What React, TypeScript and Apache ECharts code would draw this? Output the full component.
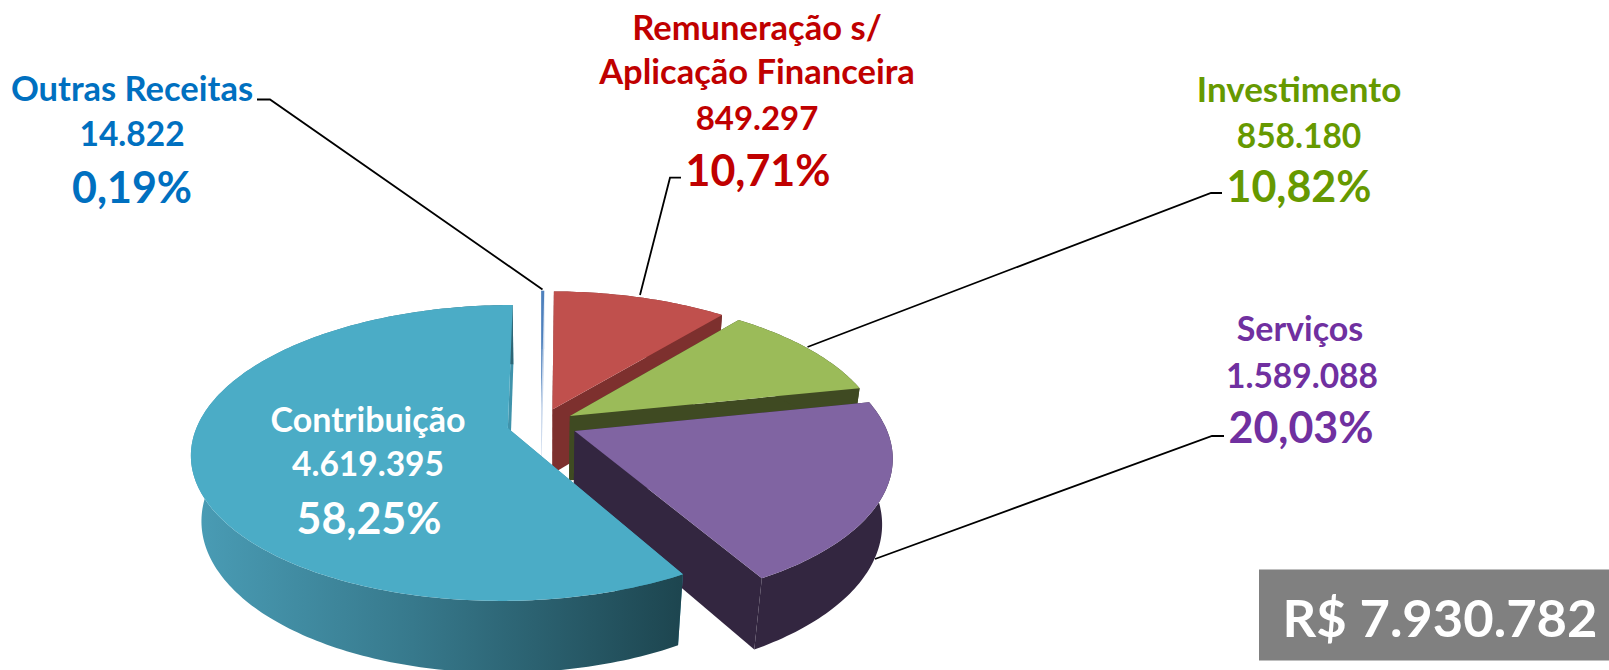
import React, { useEffect, useRef } from "react";
import * as echarts from "echarts";

// Drawing order: back to front, clockwise from 12 o'clock
const categories = ["Outras Receitas", "Remuneração s/ Aplicação Financeira", "Investimento", "Serviços", "Contribuição"];
const seriesValues = [14822, 849297, 858180, 1589088, 4619395];
const topColors = ["#4F81BD", "#C0504D", "#9BBB59", "#8064A2", "#4BACC6"];
const wallColors = ["#C5D5EA", "#7D302E", "#3F4A22", "#332640", "#1D454F"];
const radialColors = ["#C5D5EA", "#7D302E", "#3F4A22", "#332640", "#3F93AB"];
const explodeBy = [0.11, 0.11, 0.11, 0.118, 0.11];
const valueLabels = ["14.822", "849.297", "858.180", "1.589.088", "4.619.395"];
const percentLabels = ["0,19%", "10,71%", "10,82%", "20,03%", "58,25%"];
const totalLabel = "R$ 7.930.782";

const X0 = 541, Y0 = 424, RX = 310, RY = 142.4, PERSP = 0.1676, DROP = 67, SHRINK = 0.03;
const total = seriesValues.reduce((a, b) => a + b, 0);

function project(u: number, v: number, z: number): number[] {
  const w = 1 - PERSP * v + SHRINK * z;
  return [X0 + (RX * u) / w, Y0 + (RY * v + DROP * z) / w];
}

function sliceShapes(index: number) {
  const before = seriesValues.slice(0, index).reduce((a, b) => a + b, 0);
  const a0 = (before / total) * Math.PI * 2;
  const a1 = ((before + seriesValues[index]) / total) * Math.PI * 2;
  const mid = (a0 + a1) / 2;
  const ou = explodeBy[index] * Math.sin(mid), ov = -explodeBy[index] * Math.cos(mid);
  const steps = Math.max(2, Math.ceil((a1 - a0) / (Math.PI / 180)));
  const at = (a: number, z: number) => project(ou + Math.sin(a), ov - Math.cos(a), z);
  const apex = (z: number) => project(ou, ov, z);
  const topArc: number[][] = [];
  const botArc: number[][] = [];
  for (let i = 0; i <= steps; i++) {
    const a = a0 + ((a1 - a0) * i) / steps;
    topArc.push(at(a, 0));
    botArc.push(at(a, 1));
  }
  const wallFill = index === 4
    ? new echarts.graphic.LinearGradient(0, 0, 1, 0, [
        { offset: 0, color: "#4A9DB6" },
        { offset: 0.45, color: "#37798C" },
        { offset: 1, color: "#1D454F" },
      ])
    : wallColors[index];
  const poly = (points: number[][], fill: any) => ({ type: "polygon", silent: true, shape: { points }, style: { fill } });
  return {
    type: "group",
    children: [
      poly([apex(0), at(a0, 0), at(a0, 1), apex(1)], radialColors[index]),
      poly([apex(0), at(a1, 0), at(a1, 1), apex(1)], radialColors[index]),
      poly([...topArc, ...botArc.slice().reverse()], wallFill),
      poly([apex(0), ...topArc], topColors[index]),
    ],
  };
}

const txt = (text: string, x: number, y: number, size: number, fill: string) => ({
  type: "text", x, y, z: 20, silent: true,
  style: { text, x: 0, y: 0, fill, align: "center", verticalAlign: "middle", font: `bold ${size}px Lato, sans-serif` },
});
const leader = (points: number[][]) => ({
  type: "polyline", z: 1, silent: true, shape: { points }, style: { stroke: "#000", lineWidth: 1.8, fill: "none" },
});

export default function App() {
  const ref = useRef<HTMLDivElement>(null);
  useEffect(() => {
    document.body.style.margin = "0";
    const chart = echarts.init(ref.current!, null, { renderer: "svg" });
    chart.setOption({
      animation: false,
      backgroundColor: "#fff",
      series: [{
        type: "custom",
        coordinateSystem: "none",
        silent: true,
        clip: false,
        data: seriesValues.map((value, i) => ({ name: categories[i], value })),
        renderItem: (params: any) => sliceShapes(params.dataIndex),
      }],
      graphic: [
        leader([[257, 99.5], [270, 99.5], [542.5, 289.5]]),
        leader([[681, 177.7], [670, 177.7], [640, 295]]),
        leader([[1222, 193], [1211, 193], [807.5, 347]]),
        leader([[1224, 436], [1212, 436], [875, 559]]),
        txt("Outras Receitas", 132, 87, 34.5, "#0070C0"),
        txt(valueLabels[0], 132, 133, 33.5, "#0070C0"),
        txt(percentLabels[0], 132, 186, 43, "#0070C0"),
        txt("Remuneração s/", 757, 26, 34.5, "#C00000"),
        txt("Aplicação Financeira", 757, 70, 34.5, "#C00000"),
        txt(valueLabels[1], 757, 117, 33, "#C00000"),
        txt(percentLabels[1], 758, 169, 43, "#C00000"),
        txt(categories[2], 1299, 88, 35, "#669900"),
        txt(valueLabels[2], 1299, 135, 33.5, "#669900"),
        txt(percentLabels[2], 1299, 185, 43, "#669900"),
        txt(categories[3], 1300, 327, 34, "#7030A0"),
        txt(valueLabels[3], 1302, 375, 33.5, "#7030A0"),
        txt(percentLabels[3], 1301, 426, 43, "#7030A0"),
        txt(categories[4], 368, 418, 34, "#FFFFFF"),
        txt(valueLabels[4], 368, 463, 33.5, "#FFFFFF"),
        txt(percentLabels[4], 369, 517, 43, "#FFFFFF"),
        { type: "rect", z: 10, silent: true, shape: { x: 1259, y: 569.5, width: 350, height: 91 }, style: { fill: "#808080" } },
        txt(totalLabel, 1440, 616, 52.5, "#FFFFFF"),
      ],
    });
    return () => chart.dispose();
  }, []);
  return <div ref={ref} style={{ position: "absolute", left: 0, top: 0, width: 1609, height: 670, overflow: "hidden" }} />;
}
